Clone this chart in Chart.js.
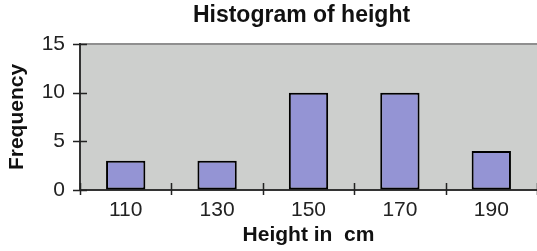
<!DOCTYPE html>
<html>
<head>
<meta charset="utf-8">
<script src="https://cdn.jsdelivr.net/npm/chart.js@4/dist/chart.umd.min.js"></script>
<style>
  html, body { margin: 0; padding: 0; background: #ffffff; }
  #wrap { width: 537px; height: 251px; }
</style>
</head>
<body>
<div id="wrap"><canvas id="c" width="537" height="251"></canvas></div>
<script>
const chartTitle = "Histogram of height";
const xAxisTitle = "Height in  cm";
const yAxisTitle = "Frequency";
const categories = ["110", "130", "150", "170", "190"];
const frequency = [3, 3, 10, 10, 4];
const yTicks = [0, 5, 10, 15];

const FONT = "'Liberation Sans', Arial, Helvetica, sans-serif";

const plotBg = {
  id: 'plotBg',
  beforeDraw(chart) {
    const {ctx, chartArea: a} = chart;
    ctx.save();
    ctx.fillStyle = '#cdcfcd';
    ctx.fillRect(a.left, a.top, a.right - a.left, a.bottom - a.top);
    ctx.strokeStyle = '#8f8f8f';
    ctx.lineWidth = 2;
    ctx.beginPath();
    ctx.moveTo(a.left, a.top);
    ctx.lineTo(a.right, a.top);
    ctx.stroke();
    ctx.restore();
  },
  afterDraw(chart) {
    const {ctx, chartArea: a} = chart;
    const xs = chart.scales.x, ys = chart.scales.y;
    ctx.save();
    ctx.strokeStyle = '#222';
    ctx.lineWidth = 1.5;
    ctx.beginPath();
    ys.ticks.forEach((t, i) => {
      const y = Math.round(ys.getPixelForTick(i)) + 0.5;
      ctx.moveTo(a.left - 7, y);
      ctx.lineTo(a.left + 7, y);
    });
    for (let i = 0; i <= categories.length; i++) {
      const x = Math.round(xs.getPixelForValue(i - 0.5)) + 0.5;
      ctx.moveTo(x, a.bottom - 7);
      ctx.lineTo(x, a.bottom + 5);
    }
    ctx.stroke();
    ctx.fillStyle = '#111';
    ctx.font = "bold 23px " + FONT;
    ctx.textAlign = 'center';
    ctx.textBaseline = 'middle';
    ctx.fillText(chartTitle, 301.5, 16);
    ctx.restore();
  }
};

new Chart(document.getElementById('c'), {
  type: 'bar',
  data: {
    labels: categories,
    datasets: [{
      data: frequency,
      backgroundColor: '#9494d4',
      borderColor: '#000000',
      borderWidth: 2,
      borderSkipped: false,
      categoryPercentage: 1.0,
      barPercentage: 0.43
    }]
  },
  options: {
    responsive: false,
    animation: false,
    devicePixelRatio: 1,
    layout: { padding: { top: 44, left: 0, right: 0, bottom: 0 } },
    plugins: {
      legend: { display: false },
      title: { display: false },
      tooltip: { enabled: false }
    },
    scales: {
      x: {
        type: 'category',
        offset: true,
        grid: { display: true, offset: true, drawOnChartArea: false, color: 'rgba(0,0,0,0)', tickLength: 5 },
        border: { display: true, color: '#333', width: 2 },
        ticks: { color: '#222', font: { family: FONT, size: 21 }, padding: 3, maxRotation: 0 },
        title: { display: true, text: xAxisTitle, color: '#111', font: { family: FONT, size: 21, weight: 'bold' }, padding: { top: 0, bottom: 3 } },
        afterFit(s) { s.height = 61; }
      },
      y: {
        min: 0,
        max: 15,
        afterBuildTicks(s) { s.ticks = yTicks.map(v => ({ value: v })); },
        grid: { display: true, drawOnChartArea: false, color: 'rgba(0,0,0,0)', tickLength: 7 },
        border: { display: true, color: '#333', width: 2 },
        ticks: { color: '#222', font: { family: FONT, size: 21 }, padding: 8 },
        title: { display: true, text: yAxisTitle, color: '#111', font: { family: FONT, size: 21, weight: 'bold' }, padding: { top: 5, bottom: 0 } },
        afterFit(s) { s.width = 80; }
      }
    }
  },
  plugins: [plotBg]
});
</script>
</body>
</html>
